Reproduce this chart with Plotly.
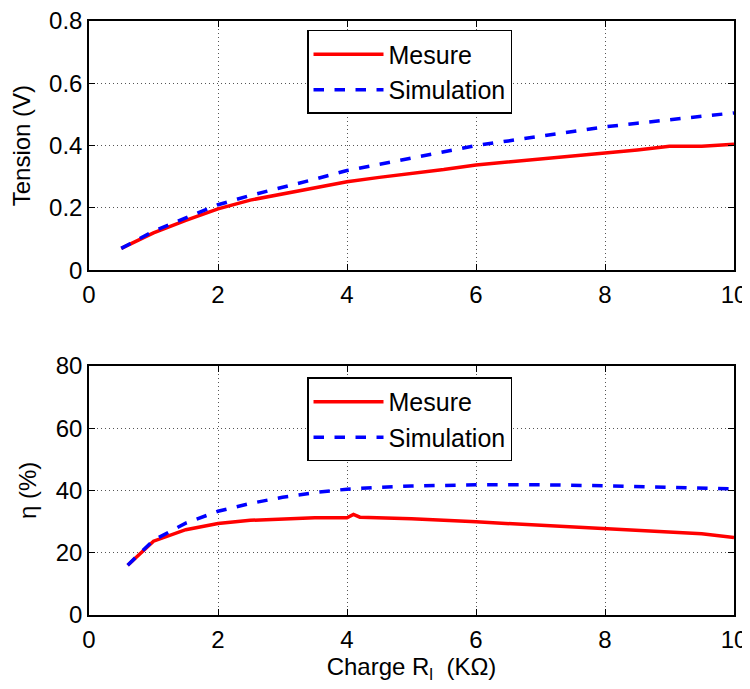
import plotly.graph_objects as go
from plotly.subplots import make_subplots

# Top plot: Tension (V) vs Charge (KOhm)
x_top = [0.5, 1, 1.5, 2, 2.5, 3, 3.5, 4, 4.5, 5, 5.5, 6, 6.5, 7, 7.5, 8, 8.5, 9, 9.5, 10]
tension_mesure = [0.07, 0.12, 0.16, 0.197, 0.225, 0.245, 0.265, 0.284, 0.298, 0.31, 0.323, 0.338,
                  0.347, 0.356, 0.366, 0.376, 0.386, 0.398, 0.398, 0.404]
x_sim_top = [0.5, 1, 1.5, 2, 2.5, 3, 3.5, 4, 4.5, 5, 5.5, 6, 6.5, 7, 7.5, 8, 8.5, 9, 9.5, 10]
tension_sim = [0.07, 0.125, 0.168, 0.21, 0.24, 0.265, 0.292, 0.32, 0.34, 0.36, 0.38, 0.40,
               0.415, 0.43, 0.445, 0.46, 0.472, 0.483, 0.494, 0.505]

# Bottom plot: efficiency (%)
x_eta_mes = [0.6, 1, 1.5, 2, 2.5, 3, 3.5, 4, 4.1, 4.2, 5, 6, 7, 8, 9, 9.5, 10]
eta_mesure = [16, 23.7, 27.4, 29.4, 30.4, 30.9, 31.2, 31.2, 32.3, 31.4, 30.9, 29.9, 28.8, 27.7, 26.8, 26.1, 24.9]
x_eta_sim = [0.6, 1, 1.5, 2, 2.5, 3, 3.5, 4, 4.5, 5, 6, 7, 8, 9, 10]
eta_sim = [16, 24, 29.5, 33.3, 35.8, 37.8, 39.3, 40.4, 41.0, 41.4, 41.8, 41.8, 41.5, 41.1, 40.5]

x_ticks = [0, 2, 4, 6, 8, 10]
y_ticks_top = [0, 0.2, 0.4, 0.6, 0.8]
y_ticktext_top = ["0", "0.2", "0.4", "0.6", "0.8"]
y_ticks_bot = [0, 20, 40, 60, 80]

fig = make_subplots(rows=2, cols=1, vertical_spacing=0.161)

red = "#ff0000"
blue = "#0000ff"
fig.add_trace(go.Scatter(x=x_top, y=tension_mesure, mode="lines", name="Mesure",
                         line=dict(color=red, width=3.5), legend="legend"), row=1, col=1)
fig.add_trace(go.Scatter(x=x_sim_top, y=tension_sim, mode="lines", name="Simulation",
                         line=dict(color=blue, width=3.5, dash="dash"), legend="legend"), row=1, col=1)
fig.add_trace(go.Scatter(x=x_eta_mes, y=eta_mesure, mode="lines", name="Mesure",
                         line=dict(color=red, width=3.5), legend="legend2"), row=2, col=1)
fig.add_trace(go.Scatter(x=x_eta_sim, y=eta_sim, mode="lines", name="Simulation",
                         line=dict(color=blue, width=3.5, dash="dash"), legend="legend2"), row=2, col=1)

font = "Liberation Sans, Arial, Helvetica, sans-serif"
FS = 24
axis_common = dict(showline=True, linecolor="black", linewidth=1.5, mirror="allticks",
                   ticks="inside", ticklen=6, tickcolor="black", showgrid=True,
                   gridcolor="#555555", griddash="1px,3px", gridwidth=1, zeroline=False,
                   automargin=False, ticklabeloverflow="allow",
                   tickfont=dict(family=font, size=FS, color="black"))

fig.update_xaxes(range=[0, 10], tickvals=x_ticks, ticklabelstandoff=2, **axis_common)
fig.update_yaxes(**axis_common)
fig.update_yaxes(range=[0, 0.8], tickvals=y_ticks_top, ticktext=y_ticktext_top,
                 title=dict(text="Tension (V)", font=dict(family=font, size=FS, color="black"), standoff=12),
                 row=1, col=1)
fig.update_yaxes(range=[0, 80], tickvals=y_ticks_bot,
                 title=dict(text="η (%)", font=dict(family=font, size=FS, color="black"), standoff=12),
                 row=2, col=1)
fig.update_xaxes(title=dict(text="Charge R<sub>l</sub>  (KΩ)", font=dict(family=font, size=FS, color="black"),
                            standoff=4), row=2, col=1)

legend_style = dict(xanchor="left", yanchor="top", bordercolor="black", borderwidth=1.5,
                    bgcolor="white", font=dict(family=font, size=25, color="black"), itemwidth=70,
                    tracegroupgap=0)
fig.update_layout(
    width=742, height=681,
    margin=dict(l=81, r=16, t=13, b=74),
    paper_bgcolor="white", plot_bgcolor="white",
    font=dict(family=font, size=FS, color="black"),
    legend=dict(x=0.338, y=0.985, **legend_style),
    legend2=dict(x=0.338, y=0.400, **legend_style),
    showlegend=True,
)

fig.write_html("out.html")
